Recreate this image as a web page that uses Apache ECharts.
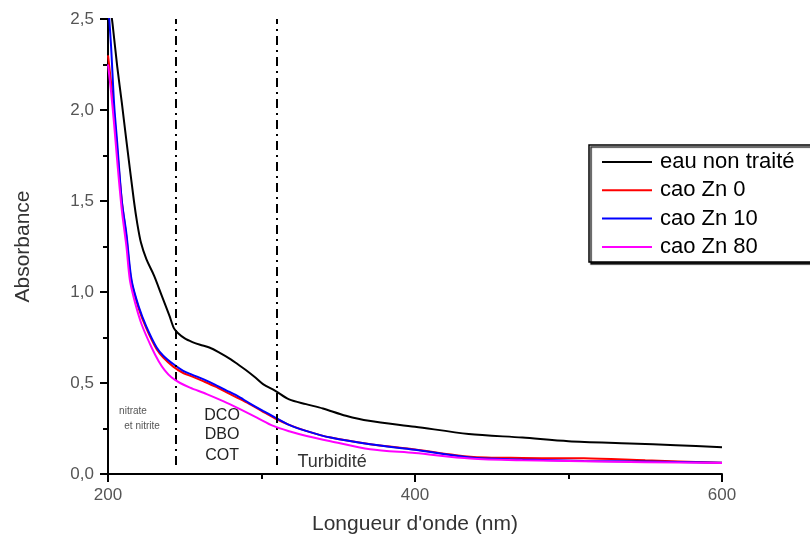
<!DOCTYPE html>
<html>
<head>
<meta charset="utf-8">
<script src="https://cdn.jsdelivr.net/npm/echarts@6/dist/echarts.min.js"></script>
<style>
  html, body { margin: 0; padding: 0; background: #fff; }
  #chart { width: 810px; height: 548px; }
</style>
</head>
<body>
<div id="chart"></div>
<script>
// absorbance spectra, [wavelength nm, absorbance]
const eauNonTraite = [
  [200, 2.68], [203, 2.47], [206, 2.24], [209, 2.04], [212, 1.83], [216.9, 1.5],
  [219, 1.38], [221.5, 1.27], [225, 1.18], [230, 1.09], [235, 0.98], [240, 0.87],
  [243, 0.8], [245.5, 0.775],
  [250, 0.745], [255, 0.725], [260, 0.71], [266, 0.695], [272, 0.67], [280, 0.63],
  [285, 0.6], [290, 0.57], [296, 0.53], [301, 0.494], [309, 0.457], [318, 0.41],
  [329, 0.384], [340, 0.36], [355, 0.32], [370, 0.292], [400, 0.26], [435, 0.22],
  [470, 0.2], [500, 0.18], [540, 0.168], [570, 0.158], [600, 0.147]
];
const caoZn0 = [
  [200, 2.3], [202, 2.15], [204, 1.98], [206, 1.78], [209, 1.5], [212, 1.3],
  [215, 1.07], [220, 0.91], [225, 0.8], [231.7, 0.685], [236, 0.64], [242.5, 0.59],
  [249, 0.555], [255, 0.535], [262, 0.51], [270, 0.48], [277, 0.45], [284, 0.42],
  [292, 0.385], [301, 0.342], [309, 0.305], [318, 0.27], [329, 0.237], [345, 0.2],
  [370, 0.165], [400, 0.135], [436, 0.095], [470, 0.088], [510, 0.086], [550, 0.075],
  [600, 0.062]
];
const caoZn10 = [
  [200, 2.6], [202, 2.35], [204, 2.03], [206, 1.82], [209, 1.5], [212, 1.32],
  [215.4, 1.063], [220, 0.92], [225, 0.81], [231.7, 0.695], [236, 0.65], [242.5, 0.604],
  [249, 0.567], [255, 0.545], [262, 0.521], [270, 0.49], [277, 0.46], [284, 0.43],
  [292, 0.39], [301, 0.347], [309, 0.31], [318, 0.27], [329, 0.237], [345, 0.2],
  [370.7, 0.163], [400, 0.133], [436, 0.09], [470, 0.08], [510, 0.072], [550, 0.068],
  [600, 0.062]
];
const caoZn80 = [
  [200, 2.25], [202, 2.1], [204, 1.92], [206, 1.72], [209, 1.45], [212, 1.25],
  [214.3, 1.063], [218, 0.93], [222, 0.82], [228.4, 0.695], [233, 0.62], [237, 0.57],
  [241.5, 0.53], [247, 0.5], [253.4, 0.475], [264.3, 0.439], [275, 0.4], [286, 0.356],
  [297, 0.31], [307.7, 0.264], [318, 0.235], [329.4, 0.209], [345, 0.18], [370.7, 0.136],
  [400, 0.115], [436, 0.085], [470, 0.075], [510, 0.07], [550, 0.065], [600, 0.06]
];
const seriesNames = ['eau non traité', 'cao Zn 0', 'cao Zn 10', 'cao Zn 80'];
const seriesColors = ['#000000', '#ff0000', '#0000ff', '#ff00ff'];
const regionBounds = [244, 310];

const FONT = "'Liberation Sans', Arial, sans-serif";
const chart = echarts.init(document.getElementById('chart'));

const comma = v => v.toFixed(1).replace('.', ',');

const lineSeries = [eauNonTraite, caoZn0, caoZn10, caoZn80].map((d, i) => ({
  name: seriesNames[i],
  type: 'line',
  data: d,
  showSymbol: false,
  symbol: 'none',
  clip: true,
  smooth: 0.3,
  lineStyle: { color: seriesColors[i], width: 2 },
  itemStyle: { color: seriesColors[i] },
  z: 2 + i
}));

// region separators and annotations hang on the first series
lineSeries[0].markLine = {
  silent: true,
  symbol: 'none',
  animation: false,
  label: { show: false },
  lineStyle: { color: '#000', width: 2, type: [9, 5, 2, 5] },
  data: regionBounds.map(b => [{ coord: [b, 0.05] }, { coord: [b, 2.5] }])
};
lineSeries[0].markPoint = {
  silent: true,
  animation: false,
  symbol: 'circle',
  symbolSize: 1,
  itemStyle: { color: 'rgba(0,0,0,0)' },
  label: { show: true, position: 'inside', formatter: '{b}', fontFamily: FONT, color: '#222', fontSize: 16 },
  data: [
    { name: 'nitrate', coord: [216.3, 0.345], label: { fontSize: 10, color: '#555' } },
    { name: 'et nitrite', coord: [222.2, 0.263], label: { fontSize: 10, color: '#555' } },
    { name: 'DCO', coord: [274.3, 0.32] },
    { name: 'DBO', coord: [274.3, 0.215] },
    { name: 'COT', coord: [274.3, 0.1] },
    { name: 'Turbidité', coord: [346, 0.065], label: { fontSize: 18, color: '#333' } }
  ]
};

const option = {
  animation: false,
  backgroundColor: '#fff',
  textStyle: { fontFamily: FONT },
  grid: { left: 108, right: 88, top: 19, bottom: 74 },
  legend: {
    orient: 'vertical',
    left: 589,
    top: 145,
    padding: [3, 20, 1, 13],
    itemGap: 0.3,
    itemWidth: 50,
    itemHeight: 2,
    icon: 'rect',
    borderColor: '#000',
    borderWidth: 1.5,
    backgroundColor: '#fff',
    shadowColor: 'rgba(0,0,0,0.85)',
    shadowBlur: 1,
    shadowOffsetX: 2,
    shadowOffsetY: 2,
    textStyle: { fontFamily: FONT, fontSize: 22, lineHeight: 28, color: '#000', padding: [0, 0, 0, 3] },
    data: seriesNames
  },
  xAxis: {
    type: 'value',
    min: 200,
    max: 600,
    interval: 200,
    name: "Longueur d'onde (nm)",
    nameLocation: 'middle',
    nameGap: 40,
    nameTextStyle: { fontFamily: FONT, fontSize: 21, color: '#333' },
    axisLine: { show: true, onZero: false, lineStyle: { color: '#000', width: 2 } },
    axisTick: { show: true, length: 8, lineStyle: { color: '#000', width: 2 } },
    minorTick: { show: true, splitNumber: 2, length: 5, lineStyle: { color: '#000', width: 2 } },
    splitLine: { show: false },
    axisLabel: { fontFamily: FONT, fontSize: 17, color: '#555', margin: 13 }
  },
  yAxis: {
    type: 'value',
    min: 0,
    max: 2.5,
    interval: 0.5,
    name: 'Absorbance',
    nameLocation: 'middle',
    nameGap: 74,
    nameTextStyle: { fontFamily: FONT, fontSize: 21, color: '#333' },
    axisLine: { show: true, onZero: false, lineStyle: { color: '#000', width: 2 } },
    axisTick: { show: true, length: 8, lineStyle: { color: '#000', width: 2 } },
    minorTick: { show: true, splitNumber: 2, length: 5, lineStyle: { color: '#000', width: 2 } },
    splitLine: { show: false },
    axisLabel: { fontFamily: FONT, fontSize: 17, color: '#555', margin: 14, formatter: comma }
  },
  series: lineSeries
};

chart.setOption(option);
</script>
</body>
</html>
